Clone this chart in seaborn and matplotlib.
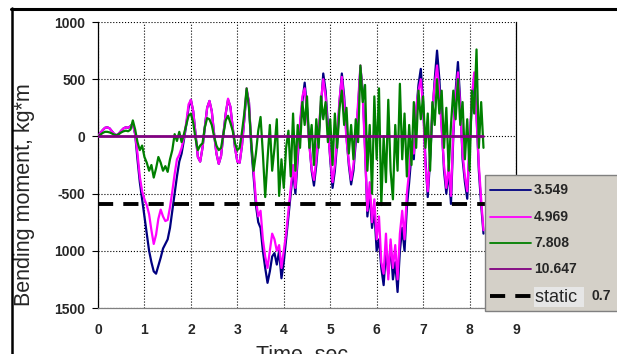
import numpy as np
import pandas as pd
import matplotlib
matplotlib.use('Agg')
import matplotlib.pyplot as plt
from matplotlib.lines import Line2D
from matplotlib.patches import Rectangle
import seaborn as sns

# sample times, s
t = np.round(np.arange(0, 8.301, 0.05), 2)

# bending moment, kg*m, every 0.05 s
v3549 = [
    0, 30, 55, 75, 80, 70, 45, 20, 10, 25, 50, 70, 80, 75, 90, 110, 20,
    -200, -400, -550, -700, -850, -1000, -1100, -1180, -1200, -1130, -1060, -980,
    -940, -900, -800, -650, -500, -350, -220, -150, -30, 100, 250,
    320, 220, 20, -180, -220, -100, 80, 250, 310, 220, 20, -150, -240, -170,
    20, 200, 320, 260, 80, -100, -220, -230, -80, 150, 400, 300,
    -100, -350, -600, -750, -800, -1000, -1150, -1280, -1180, -1050, -1020,
    -1120, -1000, -1240, -1100, -900, -700, -500, -300,
    -500, -200, 100, 300, 470, 250, -50, -300, -430, -250, 0, 250, 550, 400,
    100, -200, -450, -300, -50, 300, 550, 350, 0, -250, -420, -300, -50, 250,
    600, 400, -100,
    -700, -500, -800, -650, -1000, -900, -1150, -1300, -1000, -1200, -950,
    -1250, -1100, -1360, -1000, -800, -1000, -620, -400, -150,
    -200, 200, 450, 590, 300, -200, -530, -200, 200, 500, 750, 500, 100, -300,
    -500, -300, -590, 0, 400, 650, 300, -200, -400, -545, -100, 300, 500, 200,
    -300, -600, -850,
]
v4969 = [
    0, 30, 55, 75, 80, 70, 45, 20, 10, 25, 50, 70, 80, 75, 90, 110, 20,
    -150, -350, -480, -550, -600, -680, -820, -940, -860, -720, -640, -700,
    -740, -730, -620, -480, -330, -200, -160, -100, -10, 120, 280,
    320, 220, 20, -180, -220, -100, 80, 250, 310, 220, 20, -150, -240, -170,
    20, 200, 330, 260, 80, -100, -220, -230, -80, 150, 420, 300,
    -50, -300, -550, -700, -650, -900, -1050, -1150, -1000, -850, -900,
    -1000, -950, -1150, -1000, -850, -650, -450, -250,
    -450, -150, 120, 350, 420, 200, -80, -280, -380, -200, 50, 300, 500, 350,
    50, -180, -400, -250, 0, 320, 520, 300, -30, -220, -380, -250, 0, 300,
    620, 350, -150,
    -650, -400, -750, -550, -900, -700, -1100, -1200, -850, -1250, -900,
    -1150, -950, -1250, -850, -650, -900, -500, -300, -50,
    -150, 250, 400, 500, 250, -250, -480, -150, 250, 450, 620, 400, 50, -250,
    -450, -250, -520, 50, 350, 560, 250, -150, -350, -480, -50, 350, 560, 150,
    -250, -550, -820,
]
v7808 = [
    0, 15, 30, 40, 40, 35, 25, 15, 10, 20, 35, 45, 50, 45, 60, 140, 60,
    -50, -120, -80, -180, -230, -300, -250, -360, -280, -180, -230, -300,
    -260, -310, -200, -120, 20, -40, 40, -50, 20, 100, 180,
    200, 120, -20, -120, -80, -60, 80, 160, 150, 100, 0, -80, -120, -100,
    20, 140, 180, 120, 50, -60, -120, -100, 40, 200, 420, 250,
    -50, -300, -150, 50, 170, -150, -530, -200, 100, -300, -100,
    150, -520, -200, -450, -100, 50, -350, 200,
    -300, 100, -100, 300, 100, 350, -100, 100, -250, 150, -100, 350, 150, 300,
    -50, 150, -250, 200, -100, 250, 400, 100, 250, -150, 100, -200, 150, -50,
    620, 300, 450,
    -300, 100, -500, 350, -200, 420, -600, 0, -400, 320, -300,
    -550, 100, -300, 460, -200, 200, -350, 100, -250,
    300, -100, 400, 150, 350, -100, 200, -300, 300, 100, 500, 200, 400, -100,
    250, -300, 100, 400, 150, 500, 100, 300, -200, 150, -300, 400, 200, 760,
    -100, 300, -100,
]
v10647 = [0] * len(t)

speeds = ['3.549', '4.969', '7.808', '10.647']
colors = ['#000080', '#FF00FF', '#008000', '#800080']
static_val = -590
static_label = '0.7'

yticks = [1000, 500, 0, -500, -1000, -1500]
ytick_labels = ['1000', '500', '0', '-500', '1000', '1500']

df = pd.DataFrame({
    't': np.tile(t, 4),
    'M': np.concatenate([v3549, v4969, v7808, v10647]),
    'speed': np.repeat(speeds, len(t)),
})

sns.set_theme(style='white')
plt.rcParams['font.family'] = ['Liberation Sans', 'DejaVu Sans']

W, H = 617, 354
fig = plt.figure(figsize=(W / 100, H / 100), dpi=100)
ax = fig.add_axes([98 / W, 1 - 308 / H, 418 / W, 286 / H])

fx = lambda x: x / W
fy = lambda y: 1 - y / H

sns.lineplot(data=df[df.speed != '10.647'], x='t', y='M', hue='speed',
             palette=dict(zip(speeds, colors)), hue_order=speeds[:3],
             linewidth=1.6, legend=False, ax=ax, zorder=3)
ax.plot(t, v10647, color=colors[3], linewidth=2, zorder=4)
ax.axhline(static_val, color='black', linewidth=2.8,
           linestyle=(0, (3.9, 2.6)), zorder=5)

ax.set_xlim(0, 9)
ax.set_ylim(-1500, 1000)
ax.set_xticks(range(10))
ax.set_yticks(yticks)
ax.set_yticklabels(ytick_labels)
for lab in ax.get_xticklabels() + ax.get_yticklabels():
    lab.set_fontweight('bold')
    lab.set_fontsize(10)
ax.tick_params(axis='y', length=4, width=0.8, color='black', pad=5, direction='out', left=True)
ax.tick_params(axis='x', length=0, pad=11)

ax.grid(True, color='black', linestyle=':', linewidth=0.8)
ax.spines['top'].set_visible(False)
ax.spines['left'].set_color('black')
ax.spines['right'].set_color('black')
ax.spines['bottom'].set_color('#808080')
for s in ['left', 'right', 'bottom']:
    ax.spines[s].set_linewidth(0.9)

ax.set_ylabel('Bending moment, kg*m', fontsize=15.5)
ax.yaxis.set_label_coords(-0.15, 0.395)
ax.set_xlabel('Time, sec', fontsize=15.5, va='top')
ax.xaxis.set_label_coords(0.488, -0.13)

# legend box, drawn by hand so it runs off the right edge like the original
fig.add_artist(Rectangle((fx(485), fy(311)), fx(150), 136 / H,
                         transform=fig.transFigure, facecolor='#D4D0C8',
                         edgecolor='#808080', linewidth=1, zorder=10))
rows = [190, 217, 243, 269]
for y, c, s in zip(rows, colors, speeds):
    fig.add_artist(Line2D([fx(490), fx(531)], [fy(y), fy(y)], color=c,
                          linewidth=1.3, transform=fig.transFigure, zorder=11))
    fig.text(fx(534), fy(y), s, fontsize=10, fontweight='bold',
             va='center', ha='left', zorder=11)
fig.add_artist(Line2D([fx(490), fx(531)], [fy(296), fy(296)], color='black',
                      linewidth=2.8, linestyle=(0, (3.9, 2.6)),
                      transform=fig.transFigure, zorder=11))
fig.text(fx(535), fy(297), 'static ', fontsize=13, va='center', ha='left',
         zorder=11, bbox=dict(facecolor='#E6E6E6', edgecolor='none', pad=1))
fig.text(fx(592), fy(296), static_label, fontsize=10, fontweight='bold',
         va='center', ha='left', zorder=11)

# outer frame of the original figure
fig.add_artist(Line2D([fx(11), fx(617)], [fy(8.5), fy(8.5)], color='black',
                      linewidth=2.2, transform=fig.transFigure))
fig.add_artist(Line2D([fx(12), fx(12)], [fy(8), fy(354)], color='black',
                      linewidth=1.8, transform=fig.transFigure))

fig.savefig('out.png', dpi=100)
